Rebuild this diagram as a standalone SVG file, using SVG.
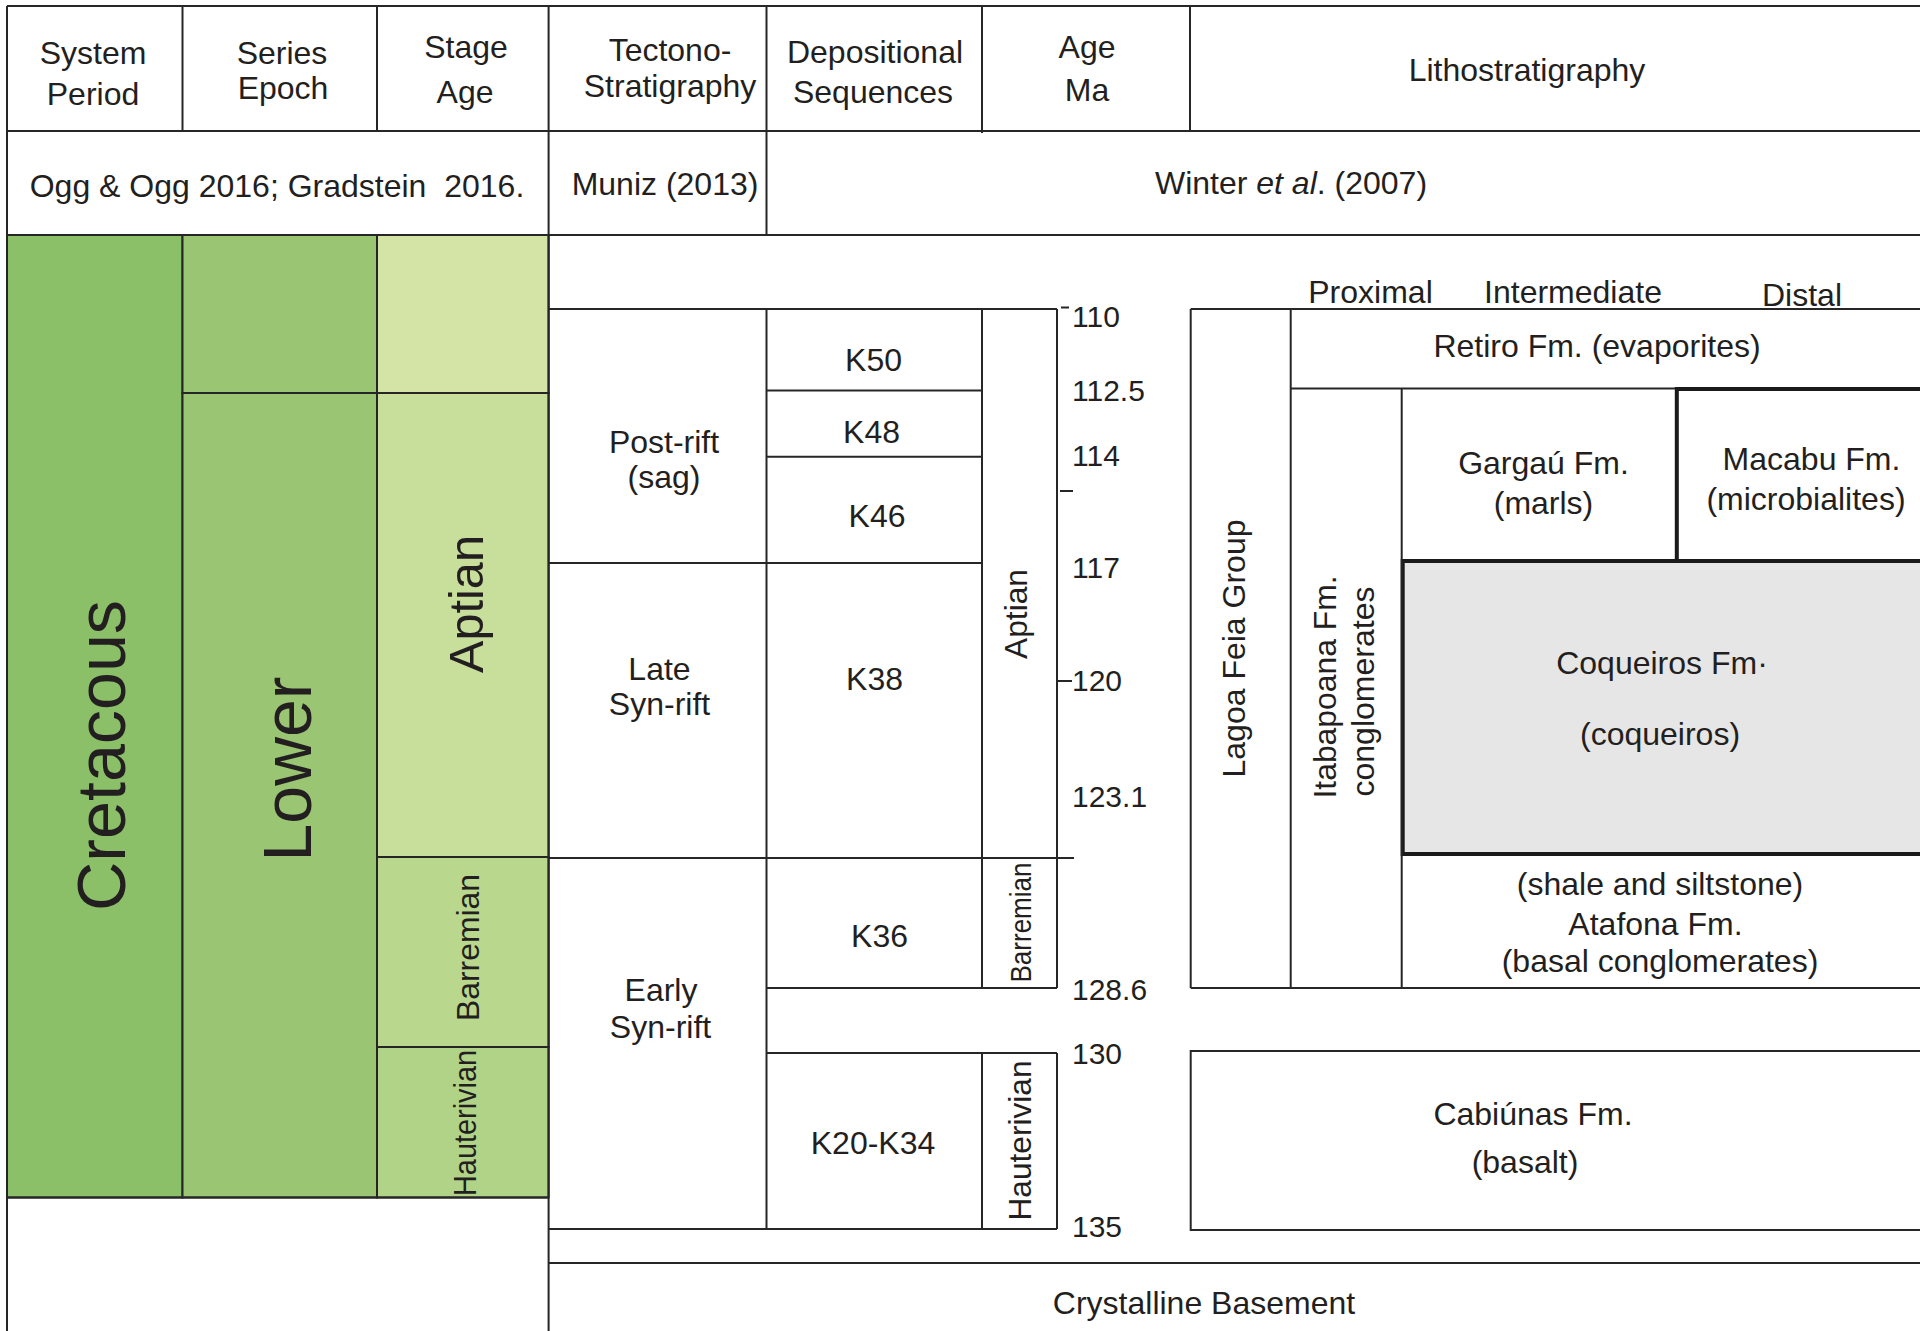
<svg xmlns="http://www.w3.org/2000/svg" width="1920" height="1331" viewBox="0 0 1920 1331">
<style>
.ln{stroke:#262626;stroke-width:2;fill:none}
.thk{stroke:#1a1a1a;stroke-width:4;fill:none}
.cell{stroke:#262626;stroke-width:2}
.t{font-family:"Liberation Sans",Arial,Helvetica,sans-serif;font-size:32px;fill:#231f20;text-anchor:middle}
.a{font-family:"Liberation Sans",Arial,Helvetica,sans-serif;font-size:30px;fill:#231f20;text-anchor:start}
</style>
<rect x="0" y="0" width="1920" height="1331" fill="#ffffff"/>

<g id="header">
<text class="t" x="93" y="63.5">System</text>
<text class="t" x="93" y="104.5">Period</text>
<text class="t" x="282" y="64">Series</text>
<text class="t" x="283" y="99">Epoch</text>
<text class="t" x="466" y="58">Stage</text>
<text class="t" x="465" y="103">Age</text>
<text class="t" x="670" y="61">Tectono-</text>
<text class="t" x="670" y="97">Stratigraphy</text>
<text class="t" x="875" y="63">Depositional</text>
<text class="t" x="873" y="103">Sequences</text>
<text class="t" x="1087" y="58">Age</text>
<text class="t" x="1087" y="101">Ma</text>
<text class="t" x="1527" y="81">Lithostratigraphy</text>
</g>

<g id="sources">
<text class="t" x="277" y="196.5">Ogg &amp; Ogg 2016; Gradstein &#160;2016.</text>
<text class="t" x="665" y="195">Muniz (2013)</text>
<text class="t" x="1291" y="193.5">Winter <tspan font-style="italic">et al</tspan>. (2007)</text>
</g>

<g id="chrono">
<rect id="cretaceous" class="cell" x="7" y="235" width="175.5" height="962.5" fill="#8bc068"/>
<rect id="lower-top" class="cell" x="182.5" y="235" width="194.5" height="158" fill="#9ac673"/>
<rect id="lower" class="cell" x="182.5" y="393" width="194.5" height="804.5" fill="#9ac673"/>
<rect id="stage-top" class="cell" x="377" y="235" width="171.6" height="158" fill="#d4e3a6"/>
<rect id="aptian" class="cell" x="377" y="393" width="171.6" height="464" fill="#c8de9b"/>
<rect id="barremian" class="cell" x="377" y="857" width="171.6" height="190" fill="#b9d88e"/>
<rect id="hauterivian" class="cell" x="377" y="1047" width="171.6" height="150.5" fill="#b0d388"/>
<text class="t" style="font-size:69px" textLength="311" lengthAdjust="spacingAndGlyphs" transform="translate(125 755.5) rotate(-90)">Cretacous</text>
<text class="t" style="font-size:69px" textLength="185" lengthAdjust="spacingAndGlyphs" transform="translate(311 769) rotate(-90)">Lower</text>
<text class="t" style="font-size:48px" textLength="138" lengthAdjust="spacingAndGlyphs" transform="translate(483 604) rotate(-90)">Aptian</text>
<text class="t" textLength="147" lengthAdjust="spacingAndGlyphs" transform="translate(478.5 947.5) rotate(-90)">Barremian</text>
<text class="t" textLength="146" lengthAdjust="spacingAndGlyphs" transform="translate(475.5 1123) rotate(-90)">Hauterivian</text>
</g>

<g id="tectono">
<text class="t" x="664" y="453">Post-rift</text>
<text class="t" x="664" y="488">(sag)</text>
<text class="t" x="659.5" y="679.5">Late</text>
<text class="t" x="659.5" y="714.5">Syn-rift</text>
<text class="t" x="661" y="1001">Early</text>
<text class="t" x="660.5" y="1037.5">Syn-rift</text>
</g>

<g id="sequences">
<text class="t" x="873.5" y="370.5">K50</text>
<text class="t" x="871.5" y="442.5">K48</text>
<text class="t" x="877" y="527">K46</text>
<text class="t" x="874.5" y="690">K38</text>
<text class="t" x="879.5" y="947">K36</text>
<text class="t" x="873" y="1154">K20-K34</text>
<text class="t" textLength="90" lengthAdjust="spacingAndGlyphs" transform="translate(1027 614) rotate(-90)">Aptian</text>
<text class="t" style="font-size:30px" textLength="120" lengthAdjust="spacingAndGlyphs" transform="translate(1031 922.5) rotate(-90)">Barremian</text>
<text class="t" textLength="160" lengthAdjust="spacingAndGlyphs" transform="translate(1031 1140.5) rotate(-90)">Hauterivian</text>
</g>

<g id="age-scale">
<text class="a" x="1072" y="326.5">110</text>
<text class="a" x="1072" y="400.5">112.5</text>
<text class="a" x="1072" y="465.5">114</text>
<text class="a" x="1072" y="577.5">117</text>
<text class="a" x="1072" y="690.5">120</text>
<text class="a" x="1072" y="806.5">123.1</text>
<text class="a" x="1072" y="1000">128.6</text>
<text class="a" x="1072" y="1064">130</text>
<text class="a" x="1072" y="1237">135</text>
</g>

<g id="coqueiros">
<rect x="1402.7" y="561" width="530" height="293" style="fill:#e6e6e6;stroke:#1a1a1a;stroke-width:4"/>
<text class="t" x="1662" y="674">Coqueiros Fm·</text>
<text class="t" x="1660" y="745">(coqueiros)</text>
</g>

<g id="litho">
<text class="t" x="1370.5" y="303">Proximal</text>
<text class="t" x="1573" y="303">Intermediate</text>
<text class="t" x="1802" y="306">Distal</text>
<text class="t" x="1597" y="357">Retiro Fm. (evaporites)</text>
<text class="t" x="1543.5" y="474">Gargaú Fm.</text>
<text class="t" x="1543.5" y="514">(marls)</text>
<text class="t" x="1811.5" y="470">Macabu Fm.</text>
<text class="t" x="1806" y="510">(microbialites)</text>
<text class="t" transform="translate(1245 648.5) rotate(-90)">Lagoa Feia Group</text>
<text class="t" style="text-anchor:start" textLength="223" lengthAdjust="spacingAndGlyphs" transform="translate(1336 798.5) rotate(-90)">Itabapoana Fm.</text>
<text class="t" style="text-anchor:start" textLength="210" lengthAdjust="spacingAndGlyphs" transform="translate(1374 796.5) rotate(-90)">conglomerates</text>
<text class="t" x="1660" y="895">(shale and siltstone)</text>
<text class="t" x="1655.5" y="935">Atafona Fm.</text>
<text class="t" x="1660" y="971.5">(basal conglomerates)</text>
<text class="t" x="1533" y="1125">Cabiúnas Fm.</text>
<text class="t" x="1525" y="1173">(basalt)</text>
<text class="t" x="1204" y="1313.5">Crystalline Basement</text>
</g>

<g id="connectors">
<path class="ln" d="M7 6H1920M7 6V1331M7 131H1920M7 235H1920"/>
<path class="ln" d="M182.5 6V131M377 6V131M548.6 6V1331M766.5 6V235M982 6V133M1190 6V131"/>
<path class="ln" d="M7 1197.5H548.6"/>
<path class="ln" d="M548.6 309H1057M548.6 563H982M548.6 858H1074M548.6 1229H1057"/>
<path class="ln" d="M766.5 309V1229M982 309V988M982 1053V1229M766.5 390.6H982M766.5 456.7H982M766.5 988H1057M766.5 1053H1057"/>
<path class="ln" d="M1057 309V988M1057 1053V1229M1061 307.5H1069M1060 491H1073M1057 681H1072"/>
<path class="ln" d="M548.6 1263H1920"/>
<path class="ln" d="M1190.7 309H1920M1190.7 309V988M1290.7 309V988M1290.7 388.5H1920M1401.7 388.5V988M1190.7 988H1920"/>
<path class="ln" d="M1920 1051H1190.7V1230H1920"/>
<path class="thk" d="M1676.8 561V389H1922"/>
</g>
</svg>
